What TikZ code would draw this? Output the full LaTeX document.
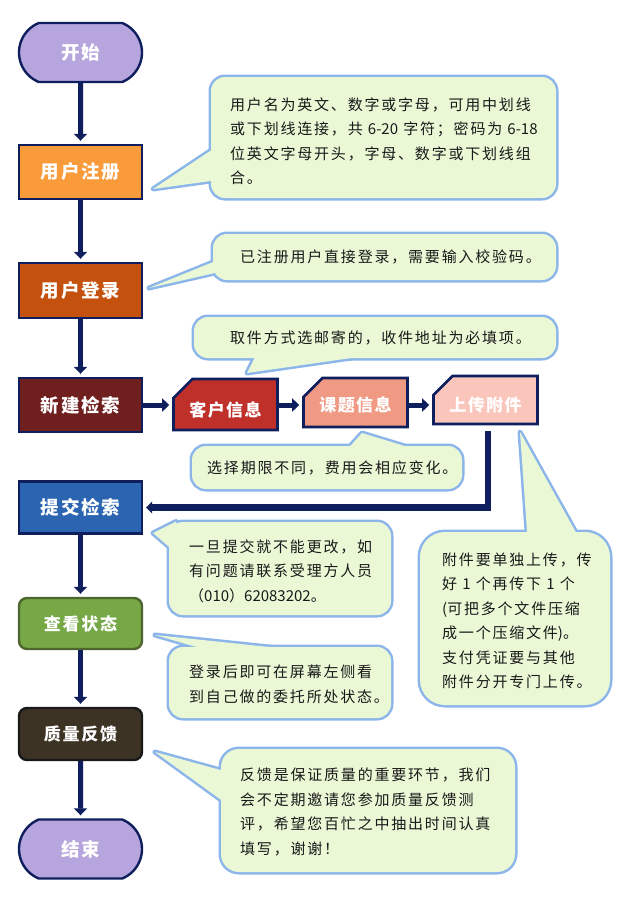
\documentclass[tikz,border=0pt]{standalone}
\usepackage{fontspec}
\usetikzlibrary{arrows.meta,shapes.misc,calc}
\newfontfamily\boxfont{Noto Sans CJK SC}[LetterSpace=10]
\newfontfamily\rowfont{Noto Sans CJK SC}[LetterSpace=8]
\newfontfamily\bubfont{Noto Sans CJK SC}[LetterSpace=12]
\newfontfamily\bubplain{Noto Sans CJK SC}
\newcommand\nls[1]{{\bubplain #1}}
\definecolor{navy}{HTML}{0F1F5E}
\definecolor{cLav}{HTML}{B7A6DE}
\definecolor{cOrange}{HTML}{F99A3B}
\definecolor{cBurnt}{HTML}{C4520E}
\definecolor{cMaroon}{HTML}{6E1F1E}
\definecolor{cBlue}{HTML}{2B64B0}
\definecolor{cGreen}{HTML}{76A845}
\definecolor{cGreenD}{HTML}{4E6530}
\definecolor{cBrown}{HTML}{3D3324}
\definecolor{cRed}{HTML}{C0302B}
\definecolor{cSalmon}{HTML}{F09A84}
\definecolor{cPink}{HTML}{FAC5BA}
\definecolor{bubFill}{HTML}{EAF8D6}
\definecolor{bubLine}{HTML}{8CB6EA}
\newcommand\bubblebg[3][14pt]{%
  \path[draw=bubLine,line width=5pt,rounded corners=#1] #2;
  \path[draw=bubLine,line width=5pt,line join=round] #3;
  \path[fill=bubFill,rounded corners=#1] #2;
  \path[fill=bubFill] #3;}
\tikzset{
  mbox/.style={draw=navy, line width=2.4pt, minimum width=123pt, minimum height=54pt,
    inner sep=0pt, text=white, font=\boxfont\bfseries\fontsize{18.5}{21}\selectfont},
  term/.style={mbox, shape=rounded rectangle, rounded rectangle arc length=135,
    minimum height=59pt, fill=cLav},
  rowbox/.style={draw=navy, line width=2.6pt, shape=chamfered rectangle,
    chamfered rectangle corners=north west, chamfered rectangle xsep=10pt,
    chamfered rectangle ysep=9pt, minimum width=104pt, inner sep=0pt,
    text=white, font=\rowfont\bfseries\fontsize{17}{19}\selectfont},
  flow/.style={draw=navy, line width=5pt, -{Triangle[width=13pt,length=7pt]}, shorten >=3pt},
  btext/.style={anchor=west, align=left, inner sep=0pt, text=black!90,
    font=\bubfont\fontsize{15}{24.5}\selectfont},
}
\begin{document}
\begin{tikzpicture}[x=1pt,y=-1pt]
\fill[white] (0,0) rectangle (620,898);
\useasboundingbox (0,0) rectangle (620,898);

% speech bubbles
\bubblebg{(211,77) rectangle (556,198)}{(153,189) -- (225,141) -- (225,179) -- cycle}
\bubblebg{(213,234) rectangle (556,280)}{(149,288) -- (228,256) -- (228,270) -- cycle}
\bubblebg{(194,317) rectangle (556,358)}{(247,373) -- (258,351) -- (400,351) -- cycle}
\bubblebg{(192,446) rectangle (462,489)}{(362,433) -- (343,454) -- (431,454) -- cycle}
\bubblebg[25pt]{(420,532) rectangle (610,705)}{(520,432) -- (528,545) -- (583,545) -- cycle}
\bubblebg{(169,522) rectangle (391,615)}{(153,533) -- (176,521.5) -- (190,565) -- cycle}
\bubblebg{(169,647) rectangle (391,718)}{(155,635) -- (224,655) -- (345,655) -- cycle}
\bubblebg[18pt]{(221,749) rectangle (515,872)}{(155,752) -- (235,774) -- (235,810) -- cycle}

\node[btext] (t1) at (230,141) {用户名为英文、数字或字母，可用中划线\\或下划线连接，共 \nls{6-20} 字符；密码为 \nls{6-18}\\位英文字母开头，字母、数字或下划线组\\合。};
\node[btext] (t2) at (240,257) {已注册用户直接登录，需要输入校验码。};
\node[btext] (t3) at (230,338) {取件方式选邮寄的，收件地址为必填项。};
\node[btext] (t4) at (207,468) {选择期限不同，费用会相应变化。};
\node[btext] (t5) at (442,621) {附件要单独上传，传\\好 \nls{1} 个再传下 \nls{1} 个\\\nls{(}可把多个文件压缩\\成一个压缩文件\nls{)}。\\支付凭证要与其他\\附件分开专门上传。};
\node[btext] (t6) at (189,571) {一旦提交就不能更改，如\\有问题请联系受理方人员\\（\nls{010}）\nls{62083202}。};
\node[btext] (t7) at (189,684.5) {登录后即可在屏幕左侧看\\到自己做的委托所处状态。};
\node[btext] (t8) at (240,812) {反馈是保证质量的重要环节，我们\\会不定期邀请您参加质量反馈测\\评，希望您百忙之中抽出时间认真\\填写，谢谢！};

% main column
\node[term] (start) at (80.5,52.5) {开始};
\node[mbox, fill=cOrange] (reg) at (80.5,172) {用户注册};
\node[mbox, fill=cBurnt, minimum height=55pt] (login) at (80.5,290.5) {用户登录};
\node[mbox, fill=cMaroon] (new) at (80.5,405) {新建检索};
\node[mbox, fill=cBlue, minimum height=52pt] (submit) at (80.5,507.5) {提交检索};
\node[mbox, fill=cGreen, draw=cGreenD, rounded corners=8pt, minimum height=51pt,
  font=\boxfont\bfseries\fontsize{17}{19}\selectfont] (status) at (80.5,623.5) {查看状态};
\node[mbox, fill=cBrown, draw=black!90, rounded corners=8pt, minimum height=52pt,
  font=\boxfont\bfseries\fontsize{17}{19}\selectfont] (fb) at (80.5,734) {质量反馈};
\node[term] (end) at (80.5,849) {结束};

% row of sub steps
\node[rowbox, fill=cRed, minimum height=51pt, text height=26pt, text depth=2pt] (cust) at (225.5,404.5) {客户信息};
\node[rowbox, fill=cSalmon, minimum height=49pt, text height=19pt, text depth=2pt] (topic) at (355.5,402.5) {课题信息};
\node[rowbox, fill=cPink, minimum height=48pt, text height=24pt, text depth=2pt] (upload) at (485.5,400) {上传附件};

% connectors
\draw[flow] (start) -- (reg);
\draw[flow] (reg) -- (login);
\draw[flow] (login) -- (new);
\draw[flow] (new.east) -- (new.east -| cust.west);
\draw[flow] (cust.east |- new.east) -- (new.east -| topic.west);
\draw[flow] (topic.east |- new.east) -- (new.east -| upload.west);
\coordinate (c1) at (488,431);
\draw[draw=navy, line width=6.5pt, -{Triangle[width=12pt,length=6pt]}, shorten >=3pt] (c1) |- (submit.east);
\draw[flow] (submit) -- (status);
\draw[flow] (status) -- (fb);
\draw[flow] (fb) -- (end);
\end{tikzpicture}
\end{document}
